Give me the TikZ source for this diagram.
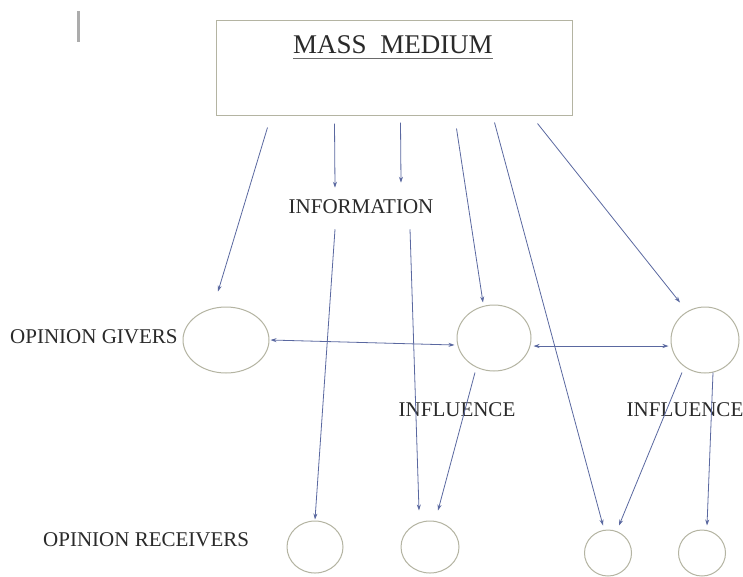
\documentclass[tikz,border=0pt]{standalone}
\usepackage{fontspec}
\setmainfont{Liberation Serif}
\usetikzlibrary{shapes.geometric,arrows.meta}
\definecolor{linec}{HTML}{5A68A0}
\definecolor{shapec}{HTML}{B4B4A2}
\definecolor{txtc}{HTML}{2A2A2A}
\tikzset{
  oval/.style={ellipse,draw=shapec,line width=1pt,inner sep=0pt},
  lbl/.style={text=txtc,inner sep=0pt,font=\fontsize{21}{21}\selectfont},
  arr/.style={draw=linec,line width=0.8pt,-{Stealth[length=6pt,width=4pt]}},
  darr/.style={draw=linec,line width=0.8pt,{Stealth[length=6pt,width=4pt]}-{Stealth[length=6pt,width=4pt]}},
}
\begin{document}
\begin{tikzpicture}[x=1pt,y=-1pt]
\useasboundingbox (0,0) rectangle (743,576);
\fill[white] (0,0) rectangle (743,576);
% cursor mark
\draw[gray!65,line width=3pt] (78,11) -- (78,42);
% box
\node[draw=shapec,line width=1pt,minimum width=356pt,minimum height=95pt,inner sep=0pt] (box) at (394,67.5) {};
\node[text=txtc,inner sep=0pt,font=\fontsize{27}{27}\selectfont,anchor=base] (mm) at (393,53) {MASS\ \ MEDIUM};
\draw[txtc!70,line width=0.8pt] ([yshift=-5pt]mm.base west) -- ([yshift=-5pt]mm.base east);
% labels
\node[lbl] (info) at (361,207) {INFORMATION};
\node[lbl,anchor=west] (og) at (10,337) {OPINION GIVERS};
\node[lbl,anchor=west] (orc) at (43,540) {OPINION RECEIVERS};
\node[lbl] (inf1) at (457,410) {INFLUENCE};
\node[lbl] (inf2) at (685,410) {INFLUENCE};
% giver circles
\node[oval,minimum width=86pt,minimum height=66pt] (g1) at (226,340) {};
\node[oval,minimum width=74pt,minimum height=66pt] (g2) at (494,338) {};
\node[oval,minimum width=68pt,minimum height=66pt] (g3) at (705,340) {};
% receiver circles
\node[oval,minimum width=56pt,minimum height=52pt] (r1) at (315,547) {};
\node[oval,minimum width=58pt,minimum height=52pt] (r2) at (430,547) {};
\node[oval,minimum width=47pt,minimum height=46pt] (r3) at (608,553) {};
\node[oval,minimum width=47pt,minimum height=46pt] (r4) at (702,553) {};
% arrows from mass medium
\draw[arr] ([xshift=52pt,yshift=-12pt]box.south west) -- ([xshift=-8pt,yshift=15pt]g1.north);
\draw[arr] ([xshift=119pt,yshift=-8pt]box.south west) -- ([xshift=-26pt,yshift=12pt]info.north);
\draw[arr] ([xshift=185pt,yshift=-7pt]box.south west) -- ([xshift=40pt,yshift=17pt]info.north);
\draw[arr] ([xshift=241pt,yshift=-13pt]box.south west) -- ([xshift=-11pt,yshift=2pt]g2.north);
\draw[arr] ([xshift=279pt,yshift=-7pt]box.south west) -- ([xshift=-5pt,yshift=4pt]r3.north);
\draw[arr] ([xshift=322pt,yshift=-8pt]box.south west) -- ([xshift=-25pt,yshift=4pt]g3.north);
% information to receivers
\draw[arr] ([xshift=-26pt,yshift=-15pt]info.south) -- ([yshift=1pt]r1.north);
\draw[arr] ([xshift=49pt,yshift=-15pt]info.south) -- ([xshift=-11pt,yshift=10pt]r2.north);
% between givers
\draw[darr] ([xshift=1pt]g1.east) -- ([xshift=-2pt,yshift=-7pt]g2.west);
\draw[darr] ([xshift=2pt,yshift=-8pt]g2.east) -- ([xshift=-2pt,yshift=-6pt]g3.west);
% influence
\draw[arr] ([xshift=-19pt,yshift=-1pt]g2.south) -- ([xshift=8pt,yshift=10pt]r2.north);
\draw[arr] ([xshift=-23pt,yshift=1pt]g3.south) -- ([xshift=11pt,yshift=4pt]r3.north);
\draw[arr] ([xshift=8pt,yshift=1pt]g3.south) -- ([xshift=5pt,yshift=4pt]r4.north);
\end{tikzpicture}
\end{document}
